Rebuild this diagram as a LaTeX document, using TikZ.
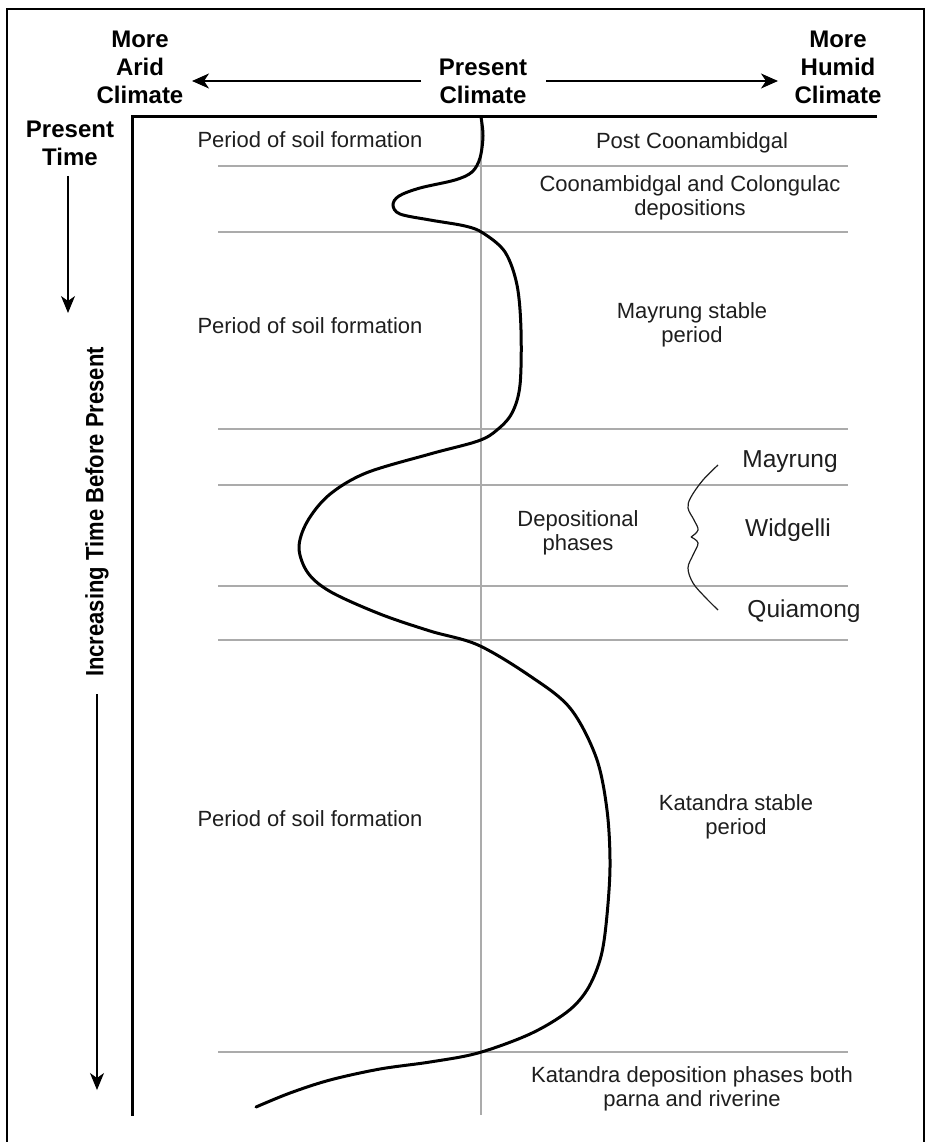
\documentclass[tikz,border=0pt]{standalone}
\usepackage{fontspec}
\setmainfont{Liberation Sans}
\newfontfamily\vfont[FakeStretch=0.88]{Liberation Sans}
\usetikzlibrary{arrows.meta}
\definecolor{ink}{HTML}{1E1E1E}
\definecolor{gridgray}{HTML}{ABABAB}
\begin{document}
\begin{tikzpicture}[x=1pt,y=-1pt,
  txt/.style={inner sep=0pt,align=center,text=ink,font=\fontsize{22}{24.5}\selectfont},
  hdr/.style={inner sep=0pt,align=center,text=black,font=\fontsize{24}{28}\selectfont\bfseries},
  phase/.style={inner sep=0pt,text=ink,font=\fontsize{24.5}{27}\selectfont},
  grid/.style={draw=gridgray,line width=1.5pt},
  axis/.style={draw=black,line width=3pt},
  harrow/.style={draw=black,line width=1.4pt,-{Stealth[length=17pt,width=15pt,inset=5pt]}},
  varrow/.style={draw=black,line width=1.2pt,-{Stealth[length=17pt,width=14pt,inset=5pt]}},
  curve/.style={draw=black,line width=3pt,line cap=round},
  brace/.style={draw=ink,line width=1.2pt}]
\useasboundingbox (0,0) rectangle (927,1142);
\fill[white] (0,0) rectangle (927,1142);
% outer frame
\draw[line width=2pt] (7,1150) -- (7,9) -- (924,9) -- (924,1150);

% header
\node[hdr] (arid) at (140,67) {More\\Arid\\Climate};
\node[hdr] (pres) at (483,81) {Present\\Climate};
\node[hdr] (humid) at (838,67) {More\\Humid\\Climate};
\coordinate (la0) at (421,81);
\coordinate (la1) at (192,81);
\coordinate (ra0) at (546,81);
\coordinate (ra1) at (778,81);
\draw[harrow] (la0) -- (la1);
\draw[harrow] (ra0) -- (ra1);

% left time axis
\node[hdr] (ptime) at (70,143) {Present\\Time};
\coordinate (t0) at (68,176);
\coordinate (t1) at (68,313);
\draw[varrow] (t0) -- (t1);
\node[inner sep=0pt,rotate=90,text=black,font=\fontsize{25}{28}\selectfont\vfont\bfseries] (inc) at (97,512) {Increasing Time Before Present};
\coordinate (u0) at (97,694);
\coordinate (u1) at (97,1090);
\draw[varrow] (u0) -- (u1);

% grid lines
\coordinate (g0) at (481,117);
\coordinate (g1) at (481,1115);
\draw[grid] (g0) -- (g1);
\foreach \yy in {166,232,429,485,586,640,1052}
  \draw[grid] (218,\yy) -- (848,\yy);

% axes
\coordinate (o) at (132,117);
\coordinate (ax) at (877,117);
\coordinate (ay) at (132,1116);
\draw[axis] (ax) -- (o) -- (ay);

% labels
\node[txt] (s1) at (310,140) {Period of soil formation};
\node[txt] (s2) at (310,326) {Period of soil formation};
\node[txt] (s3) at (310,819) {Period of soil formation};
\node[txt] (pc) at (692,143) {Post Coonambidgal};
\node[txt] (cc) at (690,198) {Coonambidgal and Colongulac\\depositions};
\node[txt] (ms) at (692,325) {Mayrung stable\\period};
\node[txt] (dp) at (578,533) {Depositional\\phases};
\node[phase] (my) at (790,462) {Mayrung};
\node[phase] (wg) at (788,530) {Widgelli};
\node[phase] (qm) at (804,611) {Quiamong};
\node[txt] (ks) at (736,817) {Katandra stable\\period};
\node[txt] (kd) at (692,1089) {Katandra deposition phases both\\parna and riverine};

% brace
\draw[brace] plot[smooth,tension=0.6] coordinates {(718,465) (703,480) (691,497) (688,508) (694,520) (698,530) (691,537)};
\draw[brace] plot[smooth,tension=0.6] coordinates {(691,537) (698,543) (693,555) (688,568) (693,583) (705,597) (718,610)};

% climate curve
\draw[curve] plot[smooth,tension=0.55] coordinates {
(481,117) (483,136) (480,158) (472,172) (455,180) (420,188) (399,196) (393,205) (400,214) (430,220) (465,226) (483,233)
(505,252) (517,285) (521,330) (520,385) (512,413) (497,430) (478,441) (430,454) (366,473) (329,495) (307,522) (299,548)
(308,573) (331,592) (380,614) (430,631) (478,645) (530,676) (570,708) (596,757) (607,810) (610,867) (606,925) (600,960)
(587,990) (567,1012) (530,1034) (478,1053) (430,1062) (380,1069) (330,1080) (290,1093) (256,1107)};
\end{tikzpicture}
\end{document}
